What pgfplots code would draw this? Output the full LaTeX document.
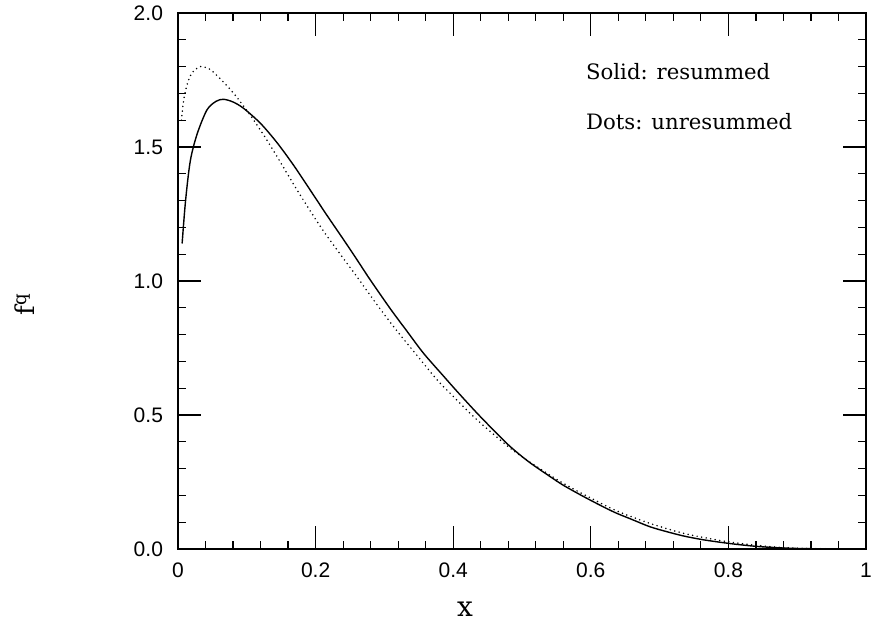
\documentclass[border=0pt]{standalone}
\usepackage{pgfplots}
\pgfplotsset{compat=1.18}
\usepackage{fontspec}
\setmainfont{DejaVu Serif}
\newfontfamily\ticksfont{Liberation Sans}
\begin{document}
\begin{tikzpicture}
\path[use as bounding box] (-89pt,-37pt) rectangle (346.5pt,274.5pt);
\begin{axis}[
  at={(0,0)}, anchor=south west,
  scale only axis, width=344pt, height=268pt,
  xmin=0, xmax=1, ymin=0, ymax=2,
  xtick={0,0.2,0.4,0.6,0.8,1},
  xticklabels={0,0.2,0.4,0.6,0.8,1},
  ytick={0,0.5,1,1.5,2},
  yticklabels={0.0,0.5,1.0,1.5,2.0},
  minor x tick num=4, minor y tick num=4,
  tick align=inside,
  major tick length=11.5pt, minor tick length=4pt,
  tick style={black, line width=0.6pt},
  axis line style={line width=0.9pt},
  ticklabel style={font=\ticksfont\fontsize{10.5}{12}\selectfont},
  xticklabel style={yshift=-3.5pt},
  yticklabel style={xshift=-4pt},
  /pgf/number format/assume math mode=true,
  xlabel={x}, ylabel={f\textsuperscript{q}},
  xlabel style={font=\fontsize{14}{16}\selectfont, at={(axis description cs:0.417,0)}, anchor=north, yshift=-23pt},
  ylabel style={font=\fontsize{13}{15}\selectfont, at={(axis description cs:0,0.457)}, anchor=south, yshift=68pt},
  clip=false,
]
\addplot[black, line width=0.7pt, smooth, tension=0.5] coordinates {
(0.006,1.14) (0.011,1.30) (0.018,1.45) (0.028,1.55) (0.042,1.638) (0.055,1.67)
(0.066,1.678) (0.08,1.668) (0.0955,1.644) (0.12,1.588) (0.144,1.516) (0.168,1.432)
(0.192,1.34) (0.216,1.247) (0.241,1.153) (0.26,1.08) (0.2795,1.004)
(0.309,0.895) (0.333,0.812) (0.357,0.73) (0.386,0.645) (0.406,0.587) (0.435,0.506)
(0.46,0.44) (0.483,0.382) (0.51,0.325) (0.541,0.27) (0.56,0.238) (0.59,0.195)
(0.62,0.155) (0.638,0.133) (0.66,0.11) (0.686,0.083) (0.71,0.065) (0.735,0.0485)
(0.76,0.036) (0.783,0.027) (0.81,0.018) (0.84,0.010) (0.87,0.005) (0.90,0.002)
(0.95,0.0003) (1.0,0)
};
\addplot[black, line width=0.85pt, line cap=round, dash pattern=on 0pt off 2.3pt, smooth, tension=0.5] coordinates {
(0.005,1.60) (0.008,1.67) (0.013,1.731) (0.02,1.775) (0.032,1.80) (0.045,1.792)
(0.052,1.778) (0.065,1.745) (0.081,1.70) (0.103,1.626) (0.125,1.543) (0.144,1.464)
(0.173,1.34) (0.207,1.203) (0.233,1.11) (0.26,1.016) (0.294,0.895) (0.321,0.805)
(0.343,0.736) (0.376,0.633) (0.396,0.58) (0.435,0.481) (0.483,0.376) (0.52,0.31)
(0.56,0.245) (0.6,0.19) (0.638,0.142) (0.686,0.0955) (0.735,0.0585) (0.783,0.034)
(0.82,0.02) (0.86,0.009) (0.9,0.003) (0.95,0.0005) (1.0,0)
};
\node[anchor=west, font=\fontsize{10.6}{12}\selectfont] at (axis cs:0.583,1.78) {Solid: resummed};
\node[anchor=west, font=\fontsize{10.6}{12}\selectfont] at (axis cs:0.583,1.593) {Dots: unresummed};
\end{axis}
\end{tikzpicture}
\end{document}
